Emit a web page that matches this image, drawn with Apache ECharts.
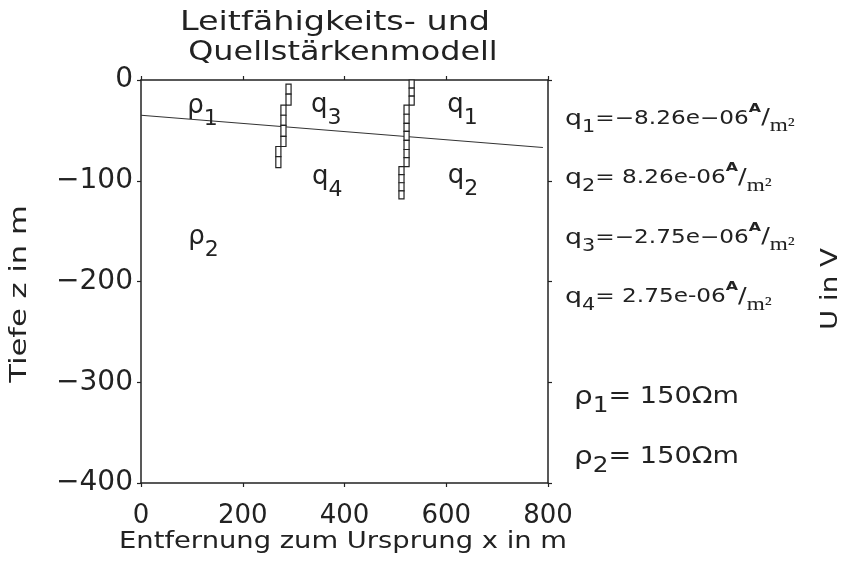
<!DOCTYPE html>
<html><head><meta charset="utf-8">
<script src="https://cdn.jsdelivr.net/npm/echarts@6/dist/echarts.min.js"></script>
<style>html,body{margin:0;padding:0;background:#fff}#c{width:843px;height:580px}</style>
</head><body><div id="c"></div>
<script>
// ---- data ----
const xTicks = [0, 200, 400, 600, 800];
const zTicks = [0, -100, -200, -300, -400];
const boundaryX = [0, 790];
const boundaryZ = [-35, -67];
// fault cells: [x0, x1, zTop, zBottom]
const fault1Cells = [
  [285, 295, -4, -14], [285, 295, -14, -25],
  [275, 285, -25, -35], [275, 285, -35, -45], [275, 285, -45, -56], [275, 285, -56, -66],
  [265, 275, -66, -76], [265, 275, -76, -87]
];
const fault2Cells = [
  [527, 537, 0, -8], [527, 537, -8, -16], [527, 537, -16, -25],
  [517, 527, -25, -34], [517, 527, -34, -43], [517, 527, -43, -51], [517, 527, -51, -60],
  [517, 527, -60, -69], [517, 527, -69, -77], [517, 527, -77, -86],
  [507, 517, -86, -94], [507, 517, -94, -102], [507, 517, -102, -110], [507, 517, -110, -118]
];
const regionLabels = ['ρ1', 'q3', 'q1', 'q4', 'q2', 'ρ2'];
const regionLabelX = [121, 364, 632, 366, 633, 123];
const regionLabelZ = [-26, -25, -25, -97, -96, -156];
const sourceNames = ['q1', 'q2', 'q3', 'q4'];
const sourceValues = ['-8.26e-06', '8.26e-06', '-2.75e-06', '2.75e-06'];
const rhoNames = ['ρ1', 'ρ2'];
const rhoValues = [150, 150];
const titleLines = ['Leitfähigkeits- und', 'Quellstärkenmodell'];

// ---- helpers ----
const FONT = 'DejaVu Sans';
const INK = '#222';
const minus = s => String(s).replace(/-/g, '\u2212');

const cellData = fault1Cells.concat(fault2Cells);
const labelData = regionLabels.map((n, i) => ({ value: [regionLabelX[i], regionLabelZ[i]], name: n }));

const graphics = [];
// title
graphics.push({ type: 'text', x: 335, y: 23, scaleX: 1.24, silent: true,
  style: { text: titleLines[0], font: '27px "' + FONT + '"', fill: INK, align: 'center', verticalAlign: 'middle' } });
graphics.push({ type: 'text', x: 343, y: 53, scaleX: 1.18, silent: true,
  style: { text: titleLines[1], font: '27px "' + FONT + '"', fill: INK, align: 'center', verticalAlign: 'middle' } });
// axis names
graphics.push({ type: 'text', x: 343, y: 542, scaleX: 1.19, silent: true,
  style: { text: 'Entfernung zum Ursprung x in m', font: '23px "' + FONT + '"', fill: INK, align: 'center', verticalAlign: 'middle' } });
graphics.push({ type: 'text', x: 20, y: 294, rotation: Math.PI / 2, scaleX: 1.33, silent: true,
  style: { text: 'Tiefe z in m', font: '23px "' + FONT + '"', fill: INK, align: 'center', verticalAlign: 'middle' } });
graphics.push({ type: 'text', x: 831, y: 289, rotation: Math.PI / 2, scaleX: 1.2, silent: true,
  style: { text: 'U in V', font: '23px "' + FONT + '"', fill: INK, align: 'center', verticalAlign: 'middle' } });

// source strength annotations
const qRich = {
  q: { fontFamily: FONT, fontSize: 22, lineHeight: 34, verticalAlign: 'middle', fill: INK },
  s: { fontFamily: FONT, fontSize: 17, lineHeight: 18, verticalAlign: 'bottom', fill: INK },
  t: { fontFamily: FONT, fontSize: 19, lineHeight: 34, verticalAlign: 'middle', fill: INK },
  a: { fontFamily: FONT, fontSize: 13, lineHeight: 22, verticalAlign: 'top', fill: INK, fontWeight: 'bold' },
  sl: { fontFamily: FONT, fontSize: 21, lineHeight: 34, verticalAlign: 'middle', fill: INK },
  m: { fontFamily: 'Liberation Serif', fontSize: 19, lineHeight: 14, verticalAlign: 'bottom', fill: INK }
};
sourceNames.forEach((n, i) => {
  const v = sourceValues[i];
  const val = v.startsWith('-') ? minus(v) : ' ' + v;
  graphics.push({ type: 'text', x: 565, y: 119 + i * 59.5, scaleX: 1.22, silent: true,
    style: { text: '{q|' + n[0] + '}{s|' + n.slice(1) + '}{t|=' + val + '}{a|A}{sl|/}{m|m²}',
      rich: qRich, align: 'left', verticalAlign: 'middle' } });
});
const rRich = {
  r: { fontFamily: FONT, fontSize: 25, lineHeight: 40, verticalAlign: 'middle', fill: INK },
  s: { fontFamily: FONT, fontSize: 21, lineHeight: 20, verticalAlign: 'bottom', fill: INK },
  t: { fontFamily: FONT, fontSize: 23, lineHeight: 40, verticalAlign: 'middle', fill: INK }
};
rhoNames.forEach((n, i) => {
  graphics.push({ type: 'text', x: 574, y: 397 + i * 60, scaleX: 1.18, silent: true,
    style: { text: '{r|' + n[0] + '}{s|' + n.slice(1) + '}{t|= ' + rhoValues[i] + 'Ωm}',
      rich: rRich, align: 'left', verticalAlign: 'middle' } });
});

const axisLine = { show: true, onZero: false, lineStyle: { color: INK, width: 1.5 } };
const axisTick = { show: true, inside: false, length: 4, lineStyle: { color: INK, width: 1.2 } };
const fmtTick = v => minus(v);

const option = {
  backgroundColor: '#fff',
  animation: false,
  grid: { left: 141, right: 295, top: 80, bottom: 97, containLabel: false },
  xAxis: [
    { type: 'value', min: xTicks[0], max: xTicks[xTicks.length - 1], interval: xTicks[1] - xTicks[0],
      position: 'bottom', axisLine, axisTick, splitLine: { show: false },
      axisLabel: { fontFamily: FONT, fontSize: 26, color: INK, margin: 20, formatter: fmtTick } },
    { type: 'value', min: xTicks[0], max: xTicks[xTicks.length - 1], interval: xTicks[1] - xTicks[0],
      position: 'top', axisLine, axisTick, splitLine: { show: false }, axisLabel: { show: false } }
  ],
  yAxis: [
    { type: 'value', min: zTicks[zTicks.length - 1], max: zTicks[0], interval: zTicks[0] - zTicks[1],
      position: 'left', axisLine, axisTick, splitLine: { show: false },
      axisLabel: { fontFamily: FONT, fontSize: 28, color: INK, margin: 8, formatter: fmtTick } },
    { type: 'value', min: zTicks[zTicks.length - 1], max: zTicks[0], interval: zTicks[0] - zTicks[1],
      position: 'right', axisLine, axisTick, splitLine: { show: false }, axisLabel: { show: false } }
  ],
  series: [
    { type: 'line', data: boundaryX.map((x, i) => [x, boundaryZ[i]]), symbol: 'none',
      lineStyle: { color: '#333', width: 1.2 }, silent: true, z: 2 },
    { type: 'custom', data: cellData, encode: { x: [0, 1], y: [2, 3] }, z: 3, silent: true,
      renderItem: (params, api) => {
        const p0 = api.coord([api.value(0), api.value(2)]);
        const p1 = api.coord([api.value(1), api.value(3)]);
        return { type: 'rect', shape: { x: p0[0], y: p0[1], width: p1[0] - p0[0], height: p1[1] - p0[1] },
          style: { fill: '#fff', stroke: INK, lineWidth: 1.2 } };
      } },
    { type: 'scatter', data: labelData, symbolSize: 0, silent: true, z: 4,
      itemStyle: { color: INK, opacity: 1 },
      label: { show: true, position: [0, 0], align: 'center', verticalAlign: 'middle', color: INK,
        textBorderWidth: 0, opacity: 1,
        formatter: p => '{b|' + p.name[0] + '}{s|' + p.name.slice(1) + '}',
        rich: {
          b: { fontFamily: FONT, fontSize: 26, lineHeight: 48, verticalAlign: 'middle', color: INK, textBorderWidth: 0 },
          s: { fontFamily: FONT, fontSize: 22, lineHeight: 22, verticalAlign: 'bottom', color: INK, textBorderWidth: 0 }
        } } }
  ],
  graphic: graphics
};
echarts.init(document.getElementById('c'), null, { renderer: 'canvas' }).setOption(option);
</script></body></html>
